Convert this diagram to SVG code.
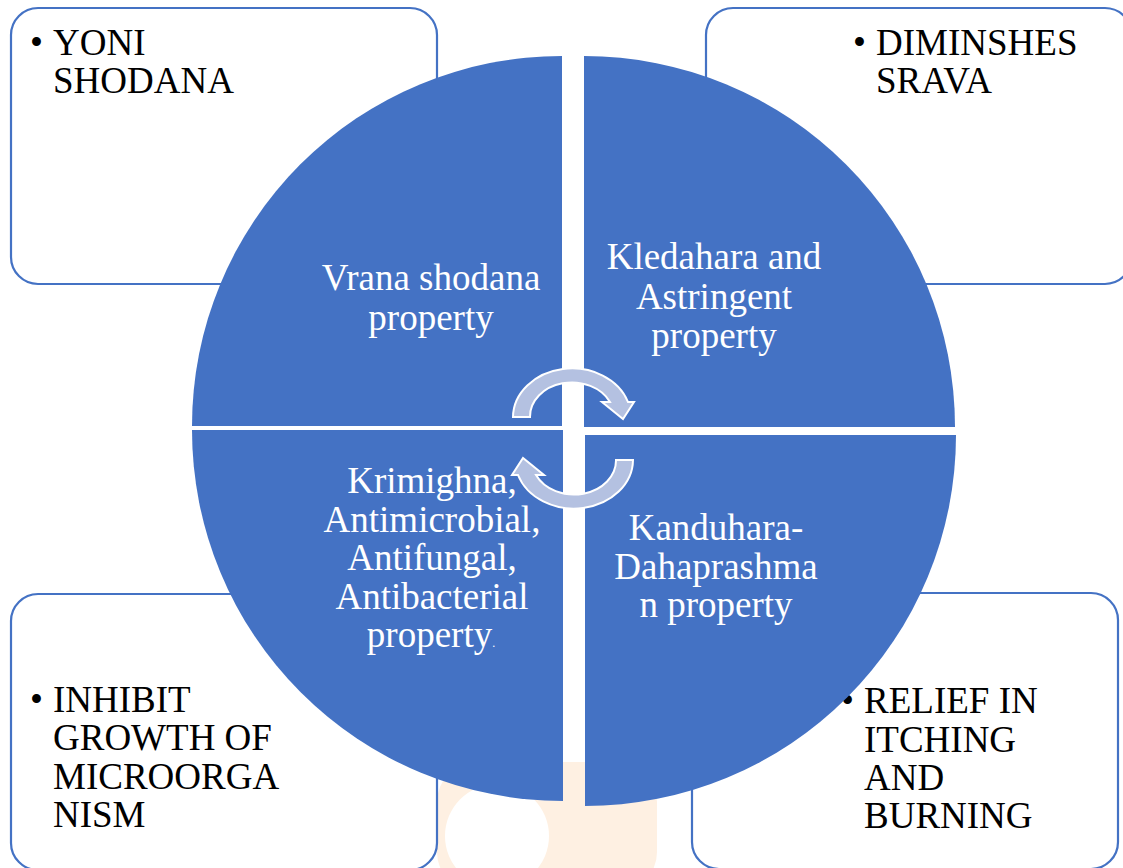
<svg xmlns="http://www.w3.org/2000/svg" width="1123" height="868" viewBox="0 0 1123 868">
<style>
.box{fill:#fff;stroke:#4472C4;stroke-width:2.2}
.btxt{font-size:37px;fill:#000}
.q{fill:#4472C4}
.qtxt{font-size:37px;fill:#fff;text-anchor:middle}
.arr{fill:#B4C1E1;stroke:#fff;stroke-width:2}
</style>
<rect width="1123" height="868" fill="#fff"/>
<g id="watermark">
<rect x="437" y="762" width="220" height="130" rx="40" fill="#FEF0E2"/>
<circle cx="497" cy="836" r="52" fill="#fff"/>
</g>
<g id="box-yoni">
<rect class="box" x="11" y="8" width="426" height="276" rx="27"/>
<text class="btxt" font-family="'Liberation Serif', 'Times New Roman', 'DejaVu Serif', serif"><tspan x="30" y="55">•</tspan><tspan x="53" y="55">YONI</tspan><tspan x="53" y="93">SHODANA</tspan></text>
</g>
<g id="box-srava">
<rect class="box" x="706" y="8" width="426" height="276" rx="27"/>
<text class="btxt" font-family="'Liberation Serif', 'Times New Roman', 'DejaVu Serif', serif"><tspan x="853" y="55">•</tspan><tspan x="876" y="55">DIMINSHES</tspan><tspan x="876" y="93">SRAVA</tspan></text>
</g>
<g id="box-inhibit">
<rect class="box" x="11" y="594" width="426" height="276" rx="27"/>
<text class="btxt" font-family="'Liberation Serif', 'Times New Roman', 'DejaVu Serif', serif"><tspan x="30" y="712">•</tspan><tspan x="53" y="712">INHIBIT</tspan><tspan x="53" y="750">GROWTH OF</tspan><tspan x="53" y="789">MICROORGA</tspan><tspan x="53" y="827">NISM</tspan></text>
</g>
<g id="box-relief">
<rect class="box" x="692" y="593" width="426" height="276" rx="27"/>
<text class="btxt" font-family="'Liberation Serif', 'Times New Roman', 'DejaVu Serif', serif"><tspan x="841" y="713">•</tspan><tspan x="864" y="713">RELIEF IN</tspan><tspan x="864" y="752">ITCHING</tspan><tspan x="864" y="790">AND</tspan><tspan x="864" y="828">BURNING</tspan></text>
</g>
<g id="q-vrana">
<path class="q" d="M562,426 L192,426 A370,370 0 0 1 562,56 Z"/>
<text class="qtxt" font-family="'Liberation Serif', 'Times New Roman', 'DejaVu Serif', serif"><tspan x="431" y="290">Vrana shodana</tspan><tspan x="431" y="330">property</tspan></text>
</g>
<g id="q-kledahara">
<path class="q" d="M584,427 L584,56 A371,371 0 0 1 955,427 Z"/>
<text class="qtxt" font-family="'Liberation Serif', 'Times New Roman', 'DejaVu Serif', serif"><tspan x="714" y="269">Kledahara and</tspan><tspan x="714" y="309">Astringent</tspan><tspan x="714" y="348">property</tspan></text>
</g>
<g id="q-krimighna">
<path class="q" d="M563,430 L563,801 A371,371 0 0 1 192,430 Z"/>
<text class="qtxt" font-family="'Liberation Serif', 'Times New Roman', 'DejaVu Serif', serif"><tspan x="432" y="493">Krimighna,</tspan><tspan x="432" y="532">Antimicrobial,</tspan><tspan x="432" y="570">Antifungal,</tspan><tspan x="432" y="609">Antibacterial</tspan><tspan x="431" y="647">property<tspan font-size="12">.</tspan></tspan></text>
</g>
<g id="q-kanduhara">
<path class="q" d="M585,435 L956,435 A371,371 0 0 1 585,806 Z"/>
<text class="qtxt" font-family="'Liberation Serif', 'Times New Roman', 'DejaVu Serif', serif"><tspan x="716" y="540">Kanduhara-</tspan><tspan x="716" y="579">Dahaprashma</tspan><tspan x="716" y="617">n property</tspan></text>
</g>
<g id="connectors">
<path class="arr" d="M513,417 A59,49 0 0 1 628,402 L634,402 L623,419 L602,402 L610,402 A42,34 0 0 0 530,417 Z"/>
<path class="arr" transform="rotate(180 573 438.5)" d="M513,417 A59,49 0 0 1 628,402 L634,402 L623,419 L602,402 L610,402 A42,34 0 0 0 530,417 Z"/>
</g>
</svg>
